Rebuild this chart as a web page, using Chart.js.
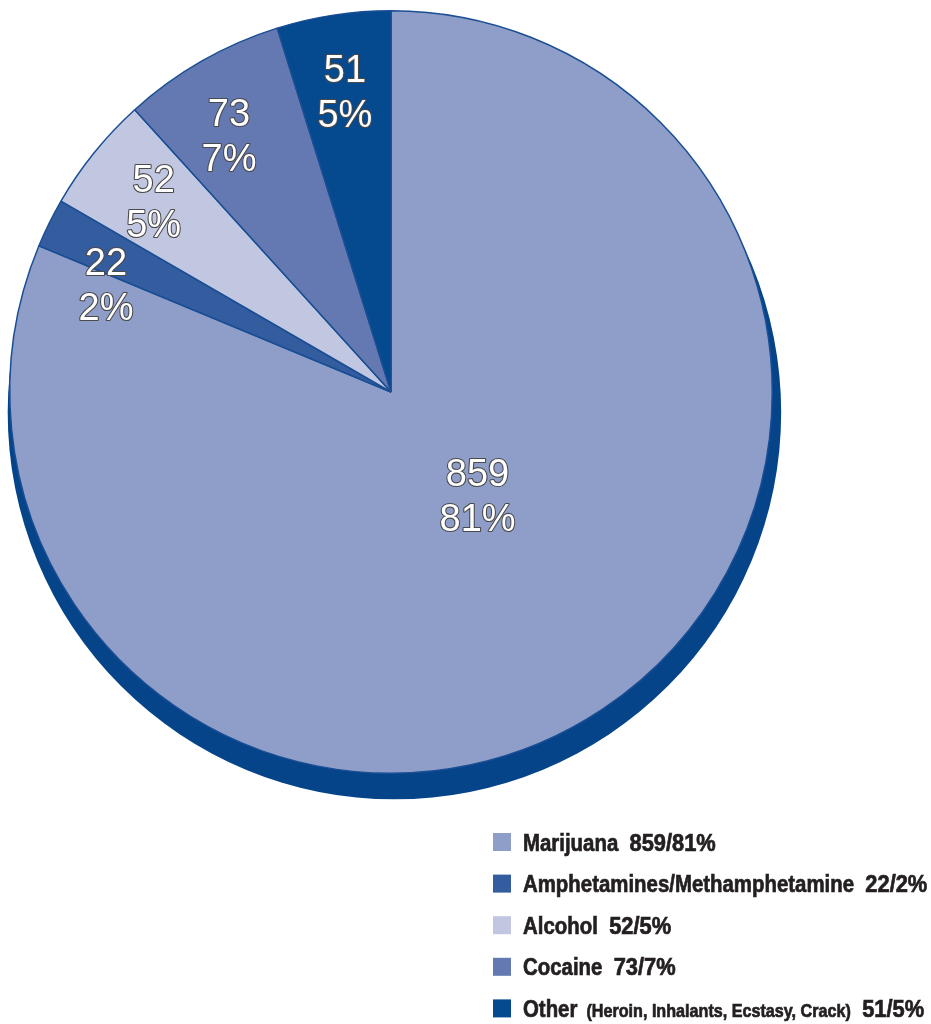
<!DOCTYPE html>
<html><head><meta charset="utf-8">
<script src="https://cdn.jsdelivr.net/npm/chart.js@4.4.0/dist/chart.umd.min.js"></script>
<style>html,body{margin:0;padding:0;background:#fff;} canvas{display:block;}</style>
</head><body>
<canvas id="c" width="931" height="1024"></canvas>
<script>
const categories = ['Marijuana', 'Amphetamines/Methamphetamine', 'Alcohol', 'Cocaine', 'Other'];
const notes = ['', '', '', '', '(Heroin, Inhalants, Ecstasy, Crack)'];
const counts = [859, 22, 52, 73, 51];
const percents = [81, 2, 5, 7, 5];
const sliceColors = ['#8f9ec9', '#345d9f', '#c1c7e1', '#6479b1', '#05498f'];

const shadowPlugin = {
  id: 'shadow',
  beforeDatasetsDraw(chart) {
    const arc = chart.getDatasetMeta(0).data[0];
    const x = arc.x, y = arc.y, R = arc.outerRadius;
    const ctx = chart.ctx;
    ctx.save();
    ctx.beginPath();
    ctx.arc(x + R * 0.009, y + R * 0.054, R * 1.0144, 0, Math.PI * 2);
    ctx.fillStyle = '#06448a';
    ctx.fill();
    ctx.restore();
  }
};

const sliceLabelPlugin = {
  id: 'sliceLabels',
  afterDatasetsDraw(chart) {
    const ctx = chart.ctx;
    const meta = chart.getDatasetMeta(0);
    const total = counts.reduce((a, b) => a + b, 0);
    ctx.save();
    ctx.font = '38px "Liberation Sans", Arial, sans-serif';
    ctx.textAlign = 'center';
    ctx.textBaseline = 'alphabetic';
    ctx.lineJoin = 'round';
    meta.data.forEach((arc, i) => {
      const share = counts[i] / total;
      let mid = (arc.startAngle + arc.endAngle) / 2;
      let frac = 0.8;
      if (share > 0.5) { mid -= 0.117; frac = 0.35; }
      else if (share < 0.03) { mid -= 0.095; }
      else if (share > 0.06) { mid -= 0.04; }
      const px = arc.x + Math.cos(mid) * arc.outerRadius * frac;
      const py = arc.y + Math.sin(mid) * arc.outerRadius * frac;
      [String(counts[i]), percents[i] + '%'].forEach((t, k) => {
        const ty = py + (k ? 23 : -22) + 14;
        ctx.lineWidth = 2.2;
        ctx.strokeStyle = '#4a4a4a';
        ctx.strokeText(t, px, ty);
        ctx.fillStyle = '#ffffff';
        ctx.fillText(t, px, ty);
      });
    });
    ctx.restore();
  }
};

const legendPlugin = {
  id: 'customLegend',
  afterDraw(chart) {
    const ctx = chart.ctx;
    const bx = 493, tx = 523, y0 = 842, dy = 41.6, box = 18, sx = 0.85, sxNum = 0.91;
    const big = 'bold 24px "Liberation Sans", Arial, sans-serif';
    const small = 'bold 19px "Liberation Sans", Arial, sans-serif';
    const ink = '#231f20';
    const heavy = (t, x) => { ctx.strokeText(t, x, 0); ctx.fillText(t, x, 0); };
    ctx.save();
    ctx.textAlign = 'left';
    ctx.textBaseline = 'alphabetic';
    categories.forEach((c, i) => {
      const cy = y0 + i * dy;
      ctx.fillStyle = sliceColors[i];
      ctx.fillRect(bx, cy - box / 2, box, box);
      ctx.save();
      ctx.translate(tx, cy + 8.5);
      ctx.scale(sx, 1);
      ctx.fillStyle = ink;
      ctx.strokeStyle = ink;
      ctx.lineWidth = 0.7;
      let x = 0;
      ctx.font = big;
      heavy(c, x);
      x += ctx.measureText(c).width;
      if (notes[i]) {
        ctx.font = small;
        const s = '  ' + notes[i];
        heavy(s, x);
        x += ctx.measureText(s).width;
        ctx.font = big;
        x += ctx.measureText('  ').width;
      } else {
        x += ctx.measureText('  ').width;
      }
      ctx.translate(x, 0);
      ctx.scale(sxNum / sx, 1);
      heavy(counts[i] + '/' + percents[i] + '%', 0);
      ctx.restore();
    });
    ctx.restore();
  }
};

new Chart(document.getElementById('c'), {
  type: 'pie',
  data: {
    labels: categories,
    datasets: [{
      data: counts,
      backgroundColor: sliceColors,
      borderColor: '#1a4e94',
      borderWidth: 1.5
    }]
  },
  options: {
    responsive: false,
    animation: false,
    layout: { padding: { left: 9, top: 10, right: 158, bottom: 250 } },
    plugins: { legend: { display: false }, tooltip: { enabled: false } }
  },
  plugins: [shadowPlugin, sliceLabelPlugin, legendPlugin]
});
</script>
</body></html>
